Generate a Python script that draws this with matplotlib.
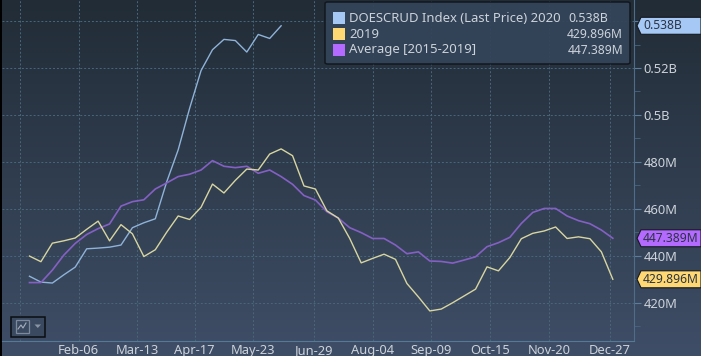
import matplotlib
matplotlib.use("Agg")
import matplotlib.pyplot as plt
import matplotlib.dates as mdates
from matplotlib.patches import Polygon, Rectangle, FancyBboxPatch
from matplotlib.transforms import blended_transform_factory
import numpy as np
import pandas as pd

W, H = 701, 356
plt.rcParams['font.family'] = ['Noto Sans', 'DejaVu Sans']

weeks = pd.date_range("2020-01-07", periods=52, freq="7D")

y2020 = [431.2, 428.7, 428.3, 431.8, 435.1, 442.9, 443.2, 443.6, 444.5, 451.9, 454.0, 455.7,
         471.5, 485.1, 502.8, 518.9, 527.8, 532.2, 531.7, 526.8, 534.3, 532.6, 538.0]
y2019 = [439.8, 437.4, 445.3, 446.3, 447.5, 451.2, 454.7, 446.3, 453.2, 449.3, 439.6, 442.5,
         450.0, 456.9, 455.4, 460.6, 470.5, 466.7, 472.1, 476.9, 476.5, 483.3, 485.5, 482.6,
         469.7, 468.4, 459.1, 456.0, 447.3, 436.9, 438.8, 440.6, 438.4, 428.1, 422.4, 416.4,
         417.2, 419.9, 422.8, 425.7, 435.2, 433.5, 439.2, 447.2, 449.5, 450.5, 452.2, 447.3,
         448.0, 447.2, 441.6, 429.9]
yavg = [428.5, 428.5, 433.8, 440.2, 445.2, 449.0, 451.5, 453.5, 461.1, 463.0, 463.8, 468.4,
        471.0, 473.7, 474.7, 476.5, 480.5, 478.1, 477.5, 478.1, 475.1, 476.5, 473.7, 470.4,
        465.6, 463.7, 458.7, 456.0, 451.9, 449.8, 447.3, 447.3, 444.5, 440.8, 441.6, 437.7,
        437.5, 436.8, 438.1, 439.5, 443.8, 445.5, 447.8, 453.7, 458.4, 460.1, 460.1, 456.9,
        454.9, 453.6, 450.9, 447.4]

xtick_dates = ["2020-01-01", "2020-02-06", "2020-03-13", "2020-04-17", "2020-05-23", "2020-06-29",
               "2020-08-04", "2020-09-09", "2020-10-15", "2020-11-20", "2020-12-27"]
xtick_labels = ["", "Feb-06", "Mar-13", "Apr-17", "May-23", "Jun-29",
                "Aug-04", "Sep-09", "Oct-15", "Nov-20", "Dec-27"]
ytick_vals = [420, 440, 460, 480, 500, 520, 540]
ytick_labels = ["420M", "440M", "460M", "480M", "0.5B", "0.52B", ""]
yminor_vals = [410, 430, 450, 470, 490, 510, 530]

legend_names = ["DOESCRUD Index (Last Price) 2020", "2019", "Average [2015-2019]"]
legend_vals = ["0.538B", "429.896M", "447.389M"]
tag_vals = [538.0, 447.389, 429.896]
tag_texts = ["0.538B", "447.389M", "429.896M"]

BLUE, YELLOW, PURPLE = "#a6c8f5", "#ffd873", "#b469ff"
GRID = "#486779"
TXT = "#cdd3da"

def fx(px):
    return px / W

def fy(py):
    return 1 - py / H

fig = plt.figure(figsize=(W / 100, H / 100), dpi=100, facecolor="#2f3c4d")

# background gradient
bg = fig.add_axes([0, 0, 1, 1], zorder=0)
bg.axis("off")
top = np.array([0x21, 0x2c, 0x36]) / 255
bot = np.array([0x3f, 0x4e, 0x67]) / 255
t = np.linspace(0, 1, 356)[:, None, None]
bg.imshow(top + (bot - top) * t, aspect="auto", extent=(0, 1, 0, 1))
bg.add_patch(Rectangle((0, 0), fx(2), 1, color="black", lw=0))

ax = fig.add_axes([fx(2), fy(341), fx(632), fy(0) - fy(341)], zorder=1)
ax.patch.set_alpha(0)

d0 = mdates.date2num(pd.Timestamp("2020-02-06"))
ax.set_xlim(d0 - 76.5 / 1.634, d0 + 555.5 / 1.634)
ax.set_ylim(420 + (302.5 - 341) / 2.345, 420 + 302.5 / 2.345)

ax.plot(weeks[:len(y2020)], y2020, color="#8fb3d9", lw=1.0, zorder=3)
ax.plot(weeks, yavg, color="#8560c4", lw=1.2, zorder=3)
ax.plot(weeks, y2019, color="#d8d6a0", lw=1.0, zorder=4)

ax.set_xticks(mdates.date2num(pd.to_datetime(xtick_dates)))
ax.set_xticklabels(xtick_labels, color=TXT, fontsize=9.3)
ax.yaxis.tick_right()
ax.set_yticks(ytick_vals)
ax.set_yticklabels(ytick_labels, color=TXT, fontsize=9.3)
ax.set_yticks(yminor_vals, minor=True)
ax.tick_params(axis="x", length=0, pad=2.5)
ax.tick_params(axis="y", which="major", length=5, color="#5b7d99", pad=2)
ax.tick_params(axis="y", which="minor", length=4, color="#4a6580")
ax.grid(True, which="major", color=GRID, ls=(0, (2, 2)), lw=0.7)
for s in ["top", "left"]:
    ax.spines[s].set_visible(False)
ax.spines["right"].set_color("#4f6d88")
ax.spines["bottom"].set_color("#557a99")

# last value tags on the right axis
trans = blended_transform_factory(fig.transFigure, ax.transData)
for val, txt, col in zip(tag_vals, tag_texts, [BLUE, PURPLE, YELLOW]):
    h = 8.5 / 2.345
    pts = [(fx(637), val), (fx(641), val + h), (fx(701), val + h), (fx(701), val - h),
           (fx(641), val - h)]
    ax.add_patch(Polygon(pts, closed=True, facecolor=col, edgecolor="#14191f", lw=0.8,
                         transform=trans, clip_on=False, zorder=6))
    ax.text(fx(643), val, txt, transform=trans, color="#2b3443", fontsize=8.7, va="center",
            ha="left", zorder=7, clip_on=False)

# legend box
fig.add_artist(FancyBboxPatch((fx(325), fy(64)), fx(305), fy(2) - fy(64),
                              boxstyle="round,pad=0,rounding_size=0.004", transform=fig.transFigure,
                              facecolor="#34445a", edgecolor="#10151b", lw=1.1, alpha=0.93, zorder=5))
for i, (name, val, col) in enumerate(zip(legend_names, legend_vals, [BLUE, YELLOW, PURPLE])):
    yc = 18 + 16 * i
    fig.add_artist(Rectangle((fx(333), fy(yc + 6)), fx(12), fy(yc - 6) - fy(yc + 6), facecolor=col,
                             lw=0, transform=fig.transFigure, zorder=6))
    fig.text(fx(349), fy(yc), name, color=TXT, fontsize=9.45, va="center", ha="left", zorder=7)
    if i == 0:
        fig.text(fx(568), fy(yc), val, color=TXT, fontsize=8.9, va="center", ha="left", zorder=7)
    else:
        fig.text(fx(623), fy(yc), val, color=TXT, fontsize=8.7, va="center", ha="right", zorder=7)

# chart type button
fig.add_artist(Rectangle((fx(10.5), fy(337)), fx(34), fy(316.5) - fy(337), facecolor="#3a4960",
                         edgecolor="#0b0e12", lw=1.1, transform=fig.transFigure, zorder=5))
fig.add_artist(Rectangle((fx(15.5), fy(333)), fx(13), fy(320) - fy(333), facecolor="none",
                         edgecolor="#7c8a9c", lw=0.9, transform=fig.transFigure, zorder=6))
fig.add_artist(plt.Line2D([fx(18), fx(21), fx(23), fx(26)], [fy(329), fy(325), fy(328), fy(323)],
                          color="#a5b0bd", lw=0.8, transform=fig.transFigure, zorder=7))
fig.add_artist(Polygon([(fx(34.5), fy(324.5)), (fx(41), fy(324.5)), (fx(37.8), fy(328))],
                       facecolor="#8995a4", lw=0, transform=fig.transFigure, zorder=6))

fig.savefig("out.png", dpi=100)
